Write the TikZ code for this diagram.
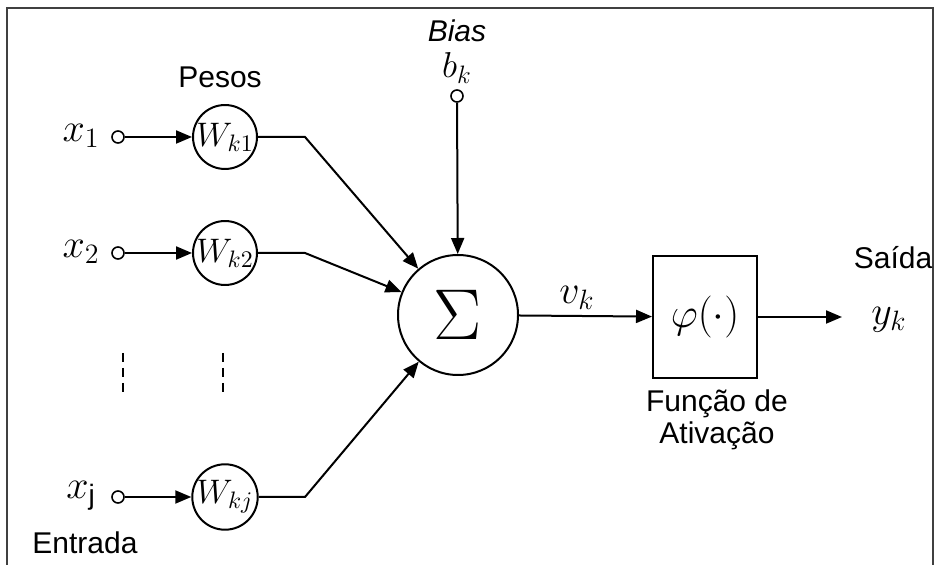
\RequirePackage{fix-cm}
\documentclass[tikz,border=0pt]{standalone}
\usepackage{fontspec}
\setmainfont{Liberation Sans}
\usetikzlibrary{arrows.meta}
\begin{document}
\begin{tikzpicture}[x=0.5pt, y=-0.5pt, line width=1pt,
    tip/.style={-{Triangle[length=8pt,width=6.5pt]}},
    port/.style={circle, draw, line width=0.8pt, minimum size=6pt, inner sep=0pt},
    wcirc/.style={circle, draw, minimum size=31pt, inner sep=0pt, font=\fontsize{17}{19}\selectfont},
    sumcirc/.style={circle, draw, minimum size=60pt, inner sep=0pt},
    actbox/.style={draw, minimum width=52pt, minimum height=61pt, inner sep=0pt},
    lbl/.style={font=\fontsize{15}{16}\selectfont},
    mlbl/.style={font=\fontsize{20}{22}\selectfont}]
      \useasboundingbox (0,0) rectangle (936,565);
      %
      \draw[draw=black!75] (7,565) -- (7,8) -- (933,8) -- (933,565);
      %
      \node[lbl] (pesos) at (220,77) {Pesos};
      \node[lbl] (entrada) at (85,543) {Entrada};
      \node[lbl, font=\fontsize{15}{16}\selectfont\itshape] (bias) at (457,31) {Bias};
      \node[lbl] (saida) at (893,258) {Saída};
      \node[lbl, align=center] (funcao) at (717,420) {Função de\\[0pt]Ativação};
      %
      \node[mlbl] (x1) at (81,136) {$x_1$};
      \node[mlbl] (x2) at (81,252) {$x_2$};
      \node[mlbl] (xj) at (81,496) {$x_{\mathrm{j}}$};
      %
      \node[port] (p1) at (118,137) {};
      \node[port] (p2) at (118,253) {};
      \node[port] (pj) at (118,497) {};
      %
      \node[wcirc] (w1) at (225,137) {$W_{k1}$};
      \node[wcirc] (w2) at (225,253) {$W_{k2}$};
      \node[wcirc] (wj) at (225,497) {$W_{kj}$};
      %
      \coordinate (e1) at (305,137);
      \coordinate (e2) at (305,253);
      \coordinate (ej) at (305,497);
      %
      \node[sumcirc] (sum) at (458,315) {\fontsize{36}{40}\selectfont$\Sigma$};
      \node[mlbl, font=\fontsize{18}{20}\selectfont] (bk) at (457,68) {$b_k$};
      \node[port] (pb) at (457,96) {};
      %
      \node[actbox] (phi) at (705,317) {\fontsize{21}{24}\selectfont$\varphi(\cdot)$};
      \node[mlbl] (vk) at (577,298) {$v_k$};
      \node[mlbl] (yk) at (889,320) {$y_k$};
      \coordinate (out) at (842,317);
      %
      \draw[tip] (p1) -- (w1);
      \draw[tip] (p2) -- (w2);
      \draw[tip] (pj) -- (wj);
      \draw[tip] (w1) -- (e1) -- (sum);
      \draw[tip] (w2) -- (e2) -- (sum);
      \draw[tip] (wj) -- (ej) -- (sum);
      \draw[tip] (pb) -- (sum);
      \draw[tip] (sum) -- (phi);
      \draw[tip] (phi) -- (out);
      %
      \draw[dashed, dash pattern=on 4.5pt off 3pt, line width=0.8pt] (123,353) -- (123,395);
      \draw[dashed, dash pattern=on 4.5pt off 3pt, line width=0.8pt] (223,353) -- (223,395);
      %
    \end{tikzpicture}
\end{document}
